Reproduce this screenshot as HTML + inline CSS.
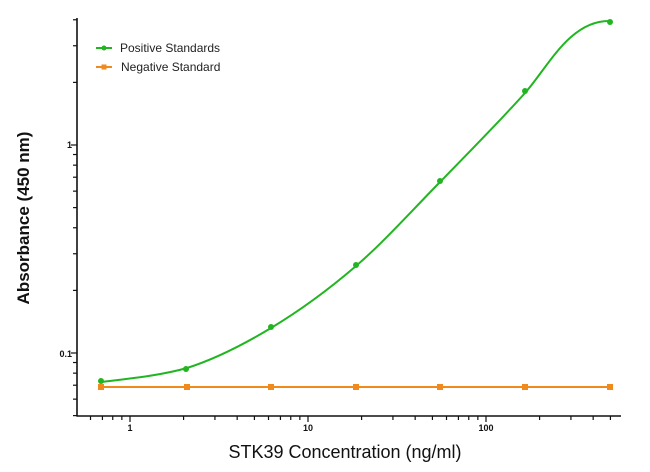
<!DOCTYPE html>
<html><head><meta charset="utf-8"><style>
html,body{margin:0;padding:0;background:#fff;}
svg{display:block;font-family:"Liberation Sans",Arial,sans-serif;}
</style></head><body>
<svg width="650" height="472" viewBox="0 0 650 472" xmlns="http://www.w3.org/2000/svg">
<g stroke="#111" stroke-width="1.6" fill="none">
<line x1="77" y1="18" x2="77" y2="416.5"/>
<line x1="76.5" y1="416" x2="621" y2="416"/>
</g>
<g id="yt" stroke="#111" stroke-width="1.2"></g>
<g id="xt" stroke="#111" stroke-width="1.2"></g>
<g font-size="9" font-weight="bold" fill="#111">
<text x="72" y="148" text-anchor="end">1</text>
<text x="72" y="357" text-anchor="end">0.1</text>
<text x="130" y="431" text-anchor="middle">1</text>
<text x="308" y="431" text-anchor="middle">10</text>
<text x="486" y="431" text-anchor="middle">100</text>
</g>
<text x="345" y="458" font-size="18" text-anchor="middle" fill="#111">STK39 Concentration (ng/ml)</text>
<text transform="translate(29,218) rotate(-90)" font-size="17" font-weight="bold" text-anchor="middle" fill="#111">Absorbance (450 nm)</text>
<line x1="101" y1="387" x2="610" y2="387" stroke="#f08a1c" stroke-width="2"/>
<g fill="#f08a1c">
<rect x="98" y="384" width="6" height="6"/><rect x="184" y="384" width="6" height="6"/><rect x="268" y="384" width="6" height="6"/><rect x="353" y="384" width="6" height="6"/><rect x="437" y="384" width="6" height="6"/><rect x="522" y="384" width="6" height="6"/><rect x="607" y="384" width="6" height="6"/>
</g>
<path d="M101,382 C125,379 158.7,376 187,368 C215.3,359 242.8,345 271,328 C299.2,311 327.8,290.3 356,266 C384.2,241.7 411.8,210.8 440,182 C468.2,153.2 502,118.7 525,93 C548,67 570,20 610,21" stroke="#22b522" stroke-width="2" fill="none"/>
<g fill="#22b522">
<circle cx="101" cy="381" r="3"/><circle cx="186" cy="369" r="3"/><circle cx="271" cy="327" r="3"/><circle cx="356" cy="265" r="3"/><circle cx="440" cy="181" r="3"/><circle cx="525" cy="91" r="3"/><circle cx="610" cy="22" r="3"/>
</g>
<line x1="96" y1="48" x2="112" y2="48" stroke="#22b522" stroke-width="2"/><circle cx="104" cy="48" r="2.5" fill="#22b522"/>
<line x1="96" y1="67" x2="112" y2="67" stroke="#f08a1c" stroke-width="2"/><rect x="101.5" y="64.5" width="5" height="5" fill="#f08a1c"/>
<text x="120" y="52" font-size="12" fill="#222">Positive Standards</text>
<text x="121" y="71" font-size="12" fill="#222">Negative Standard</text>
<script>
(function(){
var ns="http://www.w3.org/2000/svg";
function ln(g,x1,y1,x2,y2){var l=document.createElementNS(ns,"line");l.setAttribute("x1",x1);l.setAttribute("y1",y1);l.setAttribute("x2",x2);l.setAttribute("y2",y2);g.appendChild(l);}
var yt=document.getElementById("yt"),xt=document.getElementById("xt");
function Y(v){return 145-208*Math.log10(v);}
function X(v){return 130+178*Math.log10(v);}
[0.05,0.06,0.07,0.08,0.09,0.2,0.3,0.4,0.5,0.6,0.7,0.8,0.9,2,3,4].forEach(function(v){var y=Y(v);if(y>=18&&y<=416)ln(yt,73,y,77,y);});
[0.1,1].forEach(function(v){var y=Y(v);ln(yt,71,y,77,y);});
for(var d=-1;d<=2;d++){for(var m=1;m<=9;m++){var v=m*Math.pow(10,d);var x=X(v);if(x<78||x>621)continue;if(m==1)ln(xt,x,416,x,422);else ln(xt,x,416,x,420);}}
})();
</script>
</svg>
</body></html>
